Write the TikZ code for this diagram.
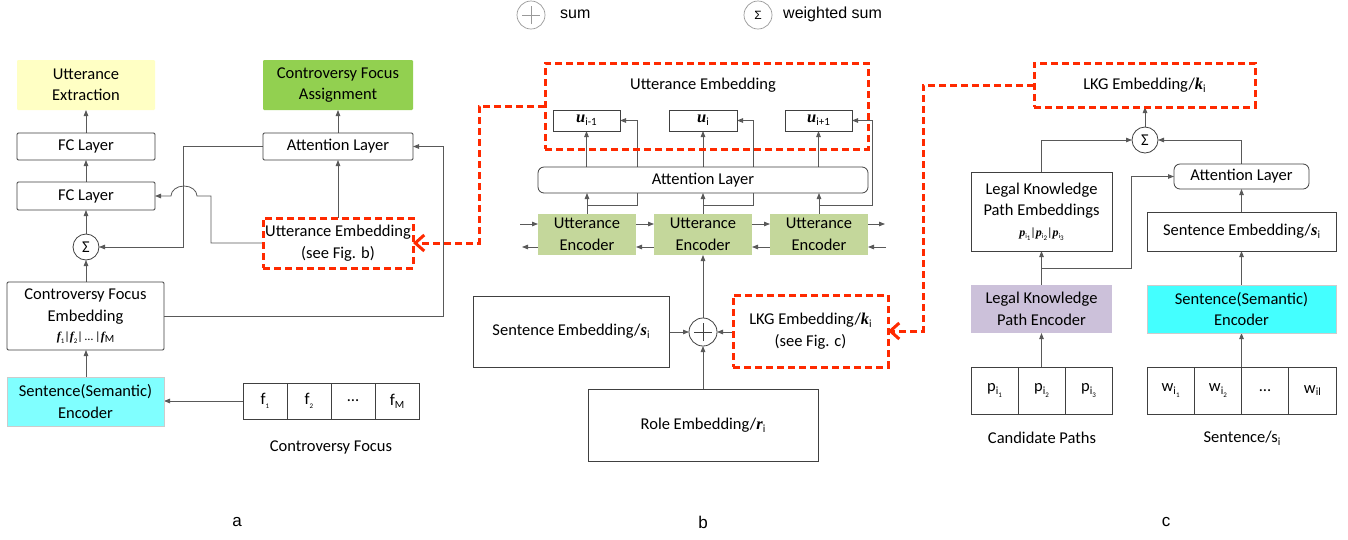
\documentclass[tikz,border=0pt]{standalone}
\usepackage{fontspec}
\setmainfont{Carlito}
\newfontfamily\arialf{Liberation Sans}
\newfontfamily\tnr{Liberation Serif}
\usetikzlibrary{arrows.meta,calc}
\pgfdeclarelayer{bg}
\pgfsetlayers{bg,main}

\definecolor{yellowc}{HTML}{FFFFC4}
\definecolor{greenc}{HTML}{92D050}
\definecolor{encc}{HTML}{C4D79B}
\definecolor{cyanA}{HTML}{80FFFF}
\definecolor{cyanC}{HTML}{44FFFF}
\definecolor{purplec}{HTML}{CCC1DA}
\definecolor{redc}{HTML}{FF2A00}

% bold italic vector symbol and subscripts
\newcommand\vbi[1]{{\tnr\bfseries\itshape #1}}
\newcommand\lsub[1]{\raisebox{-0.35ex}{\fontsize{11}{11}\selectfont #1}}
\newcommand\tsub[1]{\raisebox{-0.45ex}{\fontsize{7}{7}\selectfont #1}}

\begin{document}
\begin{tikzpicture}[x=1pt,y=-1pt,
  font=\fontsize{16.5}{21.5}\selectfont,
  wh/.style 2 args={minimum width=#1pt, minimum height=#2pt},
  box/.style={draw=black!75, line width=0.8pt, fill=white, inner sep=0pt,
    outer sep=0pt, align=center, text=black, rounded corners=1.2pt},
  rbox/.style={box, rounded corners=6pt},
  cell/.style={box, rounded corners=0pt},
  redbox/.style={draw=redc, line width=3pt, dash pattern=on 7pt off 4pt,
    inner sep=0pt, outer sep=0pt, align=center, text=black},
  sumc/.style={circle, draw=black!75, line width=0.8pt, fill=white,
    minimum size=26pt, inner sep=0pt, outer sep=0pt},
  plusmark/.style={path picture={
    \draw[line width=0.9pt] ([xshift=-9pt]path picture bounding box.center)
      -- ([xshift=9pt]path picture bounding box.center);
    \draw[line width=0.9pt] ([yshift=-9pt]path picture bounding box.center)
      -- ([yshift=9pt]path picture bounding box.center);}},
  legc/.style={circle, draw=black!40, line width=0.7pt, minimum size=28pt,
    inner sep=0pt},
  legt/.style={font=\arialf\fontsize{16}{19}\selectfont, inner sep=0pt},
  arr/.style={draw=black!65, line width=0.8pt,
    -{Triangle[length=6pt,width=4.5pt]}},
  redarr/.style={draw=redc, line width=3pt, dash pattern=on 7pt off 4pt,
    -{Straight Barb[length=9pt,width=16pt,line width=3pt]}},
  plain/.style={inner sep=0pt}
]
\begin{pgfonlayer}{bg}
  \fill[white] (0,0) rectangle (1348,539);
\end{pgfonlayer}
\useasboundingbox (0,0) rectangle (1348,539);

% ---------------- legend ----------------
\node[legc, plusmark] (lgplus) at (531,15) {};
\node[legt, anchor=west] (lgsum) at (560,14) {sum};
\node[legc] (lgsig) at (758,15) {\arialf\fontsize{12}{12}\selectfont Σ};
\node[legt, anchor=west] (lgws) at (783,14) {weighted sum};

% ---------------- panel a ----------------
\node[box, fill=yellowc, draw=none, wh={138}{50}] (ue) at (86,85) {Utterance\\Extraction};
\node[box, fill=greenc, draw=none, wh={150}{50}] (cfa) at (338,85) {Controversy Focus\\Assignment};
\node[box, wh={138}{27}] (fc1) at (86,146.5) {FC Layer};
\node[box, wh={138}{28}] (fc2) at (86,196) {FC Layer};
\node[box, wh={150}{27}] (attA) at (338,146.5) {Attention Layer};
\node[sumc] (sigA) at (86,247) {Σ};
\node[redbox, wh={150}{50}] (ueA) at (338,243) {Utterance Embedding\\(see Fig. b)};
\node[box, wh={157}{68}] (cfe) at (85.5,316)
  {Controversy Focus\\Embedding\\[-2pt]{\fontsize{12}{12}\selectfont
   \vbi{f}\tsub{1}|\vbi{f}\tsub{2}|\,…\,|\vbi{f}\lsub{M}}};
\node[box, fill=cyanA, draw=black!20, rounded corners=0pt, wh={157}{49}] (senA) at (85.5,401.5)
  {Sentence(Semantic)\\Encoder};
\node[cell, wh={44}{36}] (f1) at (265,401) {f\tsub{1}};
\node[cell, wh={44}{36}] (f2) at (309,401) {f\tsub{2}};
\node[cell, wh={44}{36}] (f3) at (353,401) {…};
\node[cell, wh={44}{36}] (f4) at (397,401) {f\lsub{M}};
\node[plain] (cfl) at (331,447) {Controversy Focus};

% ---------------- panel b ----------------
\node[redbox, wh={323}{86}] (ueB) at (706.5,106) {};
\node[plain] (ueBt) at (703,85) {Utterance Embedding};
\node[cell, wh={67}{21}] (u1) at (586.5,120.5) {\vbi{u}\lsub{i-1}};
\node[cell, wh={68}{21}] (u2) at (703,120.5) {\vbi{u}\lsub{i}};
\node[cell, wh={67}{21}] (u3) at (818.5,120.5) {\vbi{u}\lsub{i+1}};
\node[rbox, wh={330}{26}] (attB) at (703,180) {Attention Layer};
\node[box, fill=encc, draw=none, rounded corners=0pt, wh={98}{41}] (enc1) at (587,234.5) {Utterance\\[0.5pt]Encoder};
\node[box, fill=encc, draw=none, rounded corners=0pt, wh={98}{41}] (enc2) at (703,234.5) {Utterance\\[0.5pt]Encoder};
\node[box, fill=encc, draw=none, rounded corners=0pt, wh={98}{41}] (enc3) at (819,234.5) {Utterance\\[0.5pt]Encoder};
\coordinate (inR) at (520,224);
\coordinate (outL) at (522,247);
\coordinate (outR) at (885,224);
\coordinate (inL) at (886,247);
\node[box, rounded corners=0pt, wh={196}{71}] (sEmb) at (571,331.5) {Sentence Embedding/\vbi{s}\lsub{i}};
\node[sumc, plusmark, minimum size=28pt] (plus) at (703,332) {};
\node[redbox, wh={155}{72}] (lkgB) at (810.5,331) {LKG Embedding/\vbi{k}\lsub{i}\\(see Fig. c)};
\node[box, rounded corners=0pt, wh={230}{72}] (role) at (703,425) {Role Embedding/\vbi{r}\lsub{i}};

% ---------------- panel c ----------------
\node[redbox, wh={221}{44}] (lkgC) at (1144.5,85) {LKG Embedding/\vbi{k}\lsub{i}};
\node[sumc] (sigC) at (1145,140) {Σ};
\node[box, rounded corners=0pt, wh={141}{79}] (lkpE) at (1041.5,211.5)
  {Legal Knowledge\\Path Embeddings\\[-1pt]{\fontsize{12}{12}\selectfont
   \vbi{p}\tsub{i\tsub{1}}|\vbi{p}\tsub{i\tsub{2}}|\vbi{p}\tsub{i\tsub{3}}}};
\node[rbox, wh={135}{25}] (attC) at (1241.5,176.5) {Attention Layer};
\node[box, rounded corners=0pt, wh={189}{39}] (sEmbC) at (1241.5,231.5) {Sentence Embedding/\vbi{s}\lsub{i}};
\node[box, fill=purplec, draw=none, rounded corners=0pt, wh={141}{48}] (lkpEnc) at (1041.5,309)
  {Legal Knowledge\\Path Encoder};
\node[box, fill=cyanC, draw=black!20, rounded corners=0pt, wh={189}{48}] (senC) at (1241.5,309)
  {Sentence(Semantic)\\Encoder};
\node[cell, wh={47}{47}] (p1) at (994.5,390.5) {p\lsub{i\tsub{1}}};
\node[cell, wh={47}{47}] (p2) at (1041.5,390.5) {p\lsub{i\tsub{2}}};
\node[cell, wh={47}{47}] (p3) at (1088.5,390.5) {p\lsub{i\tsub{3}}};
\node[cell, wh={47.25}{47}] (w1) at (1170.6,390.5) {w\lsub{i\tsub{1}}};
\node[cell, wh={47.25}{47}] (w2) at (1217.9,390.5) {w\lsub{i\tsub{2}}};
\node[cell, wh={47.25}{47}] (w3) at (1265.1,390.5) {…};
\node[cell, wh={47.25}{47}] (w4) at (1312.4,390.5) {w\lsub{il}};
\node[plain] (cpl) at (1042,438) {Candidate Paths};
\node[plain] (sl) at (1242,438) {Sentence/s\lsub{i}};

% ---------------- panel labels ----------------
\node[legt, font=\arialf\fontsize{17}{19}\selectfont] (la) at (237,522) {a};
\node[legt, font=\arialf\fontsize{17}{19}\selectfont] (lb) at (703,522) {b};
\node[legt, font=\arialf\fontsize{17}{19}\selectfont] (lc) at (1166,522) {c};

% ---------------- connectors ----------------
\begin{pgfonlayer}{bg}
  % panel a
  \draw[arr] (fc1.north) -- (ue.south);
  \draw[arr] (fc2.north) -- (fc1.south);
  \draw[arr] (sigA.north) -- (fc2.south);
  \draw[arr] (cfe.north -| sigA.south) -- (sigA.south);
  \draw[arr] (senA.north -| sigA.south) -- (cfe.south -| sigA.south);
  \draw[arr] (f1.west) -- (f1.west -| senA.east);
  \draw[arr] (attA.north) -- (cfa.south);
  \draw[arr] (ueA.north) -- (attA.south);
  \draw[arr] (attA.west) -- ++(-80,0) |- (sigA.east);
  \draw[arr] (ueA.west) -- ++(-52,0) |- ($(fc2.east)+(42,0)$)
     arc[start angle=0, end angle=180, x radius=13, y radius=-10] -- (fc2.east);
  \draw[arr] (cfe.east) -- ++(279,0) |- (attA.east);

  % panel b
  \draw[arr] (inR) -- (inR -| enc1.west);
  \draw[arr] (enc1.east |- inR) -- (enc2.west |- inR);
  \draw[arr] (enc2.east |- inR) -- (enc3.west |- inR);
  \draw[arr] (enc3.east |- inR) -- (outR);
  \draw[arr] (inL) -- (inL -| enc3.east);
  \draw[arr] (enc3.west |- inL) -- (enc2.east |- inL);
  \draw[arr] (enc2.west |- inL) -- (enc1.east |- inL);
  \draw[arr] (enc1.west |- outL) -- (outL);
  \foreach \e/\u/\dx in {enc1/u1/17, enc2/u2/16, enc3/u3/20} {
    \draw[arr] (\e.north) -- (\e.north |- attB.south);
    \draw[arr] (\u.south |- attB.north) -- (\u.south);
    \draw[arr] ($(\e.north)+(0,-9)$) -| ($(\u.east)+(\dx,0)$) -- (\u.east);
  }
  \draw[arr] (sEmb.east |- plus.west) -- (plus.west);
  \draw[arr] (lkgB.west |- plus.east) -- (plus.east);
  \draw[arr] (role.north) -- (plus.south);
  \draw[arr] (plus.north) -- (enc2.south);

  % panel c
  \draw[arr] (sigC.north) -- (sigC.north |- lkgC.south);
  \draw[arr] (lkpE.north) |- (sigC.west);
  \draw[arr] (attC.north) |- (sigC.east);
  \draw[arr] (sEmbC.north) -- (attC.south);
  \draw[arr] (senC.north) -- (sEmbC.south);
  \draw[arr] (lkpEnc.north) -- (lkpE.south);
  \draw[arr] ($(lkpEnc.north)+(0,-17)$) -| ($(attC.west)+(-43,0)$) -- (attC.west);
  \draw[arr] (p2.north) -- (lkpEnc.south);
  \draw[arr] (senC.south |- w2.north) -- (senC.south);
\end{pgfonlayer}

% cross-panel references
\draw[redarr] (ueB.west) -- ++(-66,0) |- (ueA.east);
\draw[redarr] (lkgC.west) -- ++(-111,0) |- (lkgB.east);
\end{tikzpicture}
\end{document}
